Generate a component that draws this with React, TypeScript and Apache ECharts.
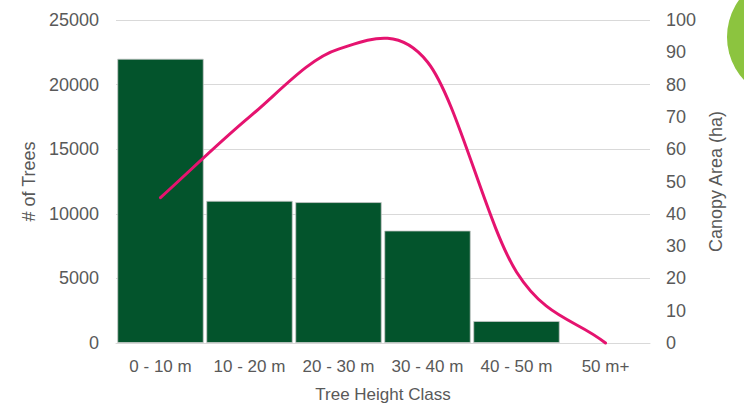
import React, { useEffect, useRef } from "react";
import * as echarts from "echarts";

const categories = ["0 - 10 m", "10 - 20 m", "20 - 30 m", "30 - 40 m", "40 - 50 m", "50 m+"];
const treeCounts = [22000, 11000, 10900, 8700, 1700, 0];
const canopyArea = [45, 70, 91, 87, 22, 0];
const leftTicks = { min: 0, max: 25000, interval: 5000 };
const rightTicks = { min: 0, max: 100, interval: 10 };

const FONT = "'Liberation Sans', Arial, sans-serif";
const TEXT = "#595959";

// Smoothed line (Excel-style cubic Bezier through every point), positioned via api.coord
function renderCanopy(params: any, api: any) {
  const pts = canopyArea.map((v, i) => api.coord([i, v]));
  const n = pts.length;
  const get = (i: number) => {
    if (i < 0) return [2 * pts[0][0] - pts[1][0], 2 * pts[0][1] - pts[1][1]];
    if (i >= n) return [2 * pts[n - 1][0] - pts[n - 2][0], 2 * pts[n - 1][1] - pts[n - 2][1]];
    return pts[i];
  };
  let d = `M${pts[0][0]},${pts[0][1]}`;
  for (let i = 0; i < n - 1; i++) {
    const p0 = get(i - 1), p1 = get(i), p2 = get(i + 1), p3 = get(i + 2);
    const c1x = p1[0] + (p2[0] - p0[0]) / 6;
    const c1y = p1[1] + (p2[1] - p0[1]) / 6;
    const c2x = p2[0] - (p3[0] - p1[0]) / 6;
    const c2y = p2[1] - (p3[1] - p1[1]) / 6;
    d += ` C${c1x},${c1y} ${c2x},${c2y} ${p2[0]},${p2[1]}`;
  }
  return {
    type: "path",
    shape: { pathData: d },
    style: { fill: "none", stroke: "#e5136f", lineWidth: 3, lineCap: "round", lineJoin: "round" },
  };
}

export default function App() {
  const ref = useRef<HTMLDivElement>(null);
  useEffect(() => {
    if (!ref.current) return;
    const chart = echarts.init(ref.current, undefined, { renderer: "svg" });
    chart.setOption({
      animation: false,
      backgroundColor: "#ffffff",
      textStyle: { fontFamily: FONT },
      grid: { left: 116, right: 94, top: 20, bottom: 69 },
      graphic: [
        {
          type: "circle",
          shape: { cx: 790, cy: 37, r: 63 },
          style: { fill: "#8cc43f" },
          z: 10,
        },
      ],
      xAxis: {
        type: "category",
        data: categories,
        boundaryGap: true,
        axisLine: { lineStyle: { color: "#d9d9d9", width: 1 } },
        axisTick: { show: false },
        axisLabel: { color: TEXT, fontSize: 17, margin: 15, fontFamily: FONT, interval: 0 },
        name: "Tree Height Class",
        nameLocation: "middle",
        nameGap: 43,
        nameTextStyle: { color: TEXT, fontSize: 17, fontFamily: FONT },
      },
      yAxis: [
        {
          type: "value",
          ...leftTicks,
          position: "left",
          axisLine: { show: false },
          axisTick: { show: false },
          axisLabel: {
            color: TEXT,
            fontSize: 18,
            margin: 17,
            fontFamily: FONT,
            formatter: (v: number) => String(v),
          },
          splitLine: { lineStyle: { color: "#d9d9d9", width: 1.2 } },
          name: "# of Trees",
          nameLocation: "middle",
          nameRotate: 90,
          nameGap: 74,
          nameTextStyle: { color: TEXT, fontSize: 18, fontFamily: FONT },
        },
        {
          type: "value",
          ...rightTicks,
          position: "right",
          axisLine: { show: false },
          axisTick: { show: false },
          axisLabel: { color: TEXT, fontSize: 18, margin: 16, fontFamily: FONT },
          splitLine: { show: false },
          name: "Canopy Area (ha)",
          nameLocation: "middle",
          nameRotate: 90,
          nameGap: 56,
          nameTextStyle: { color: TEXT, fontSize: 18, fontFamily: FONT },
        },
      ],
      series: [
        {
          type: "bar",
          data: treeCounts.map((v) =>
            v === 0 ? { value: v, itemStyle: { borderWidth: 0 } } : v
          ),
          yAxisIndex: 0,
          barCategoryGap: "3%",
          itemStyle: { color: "#03542c", borderColor: "#c8c8c8", borderWidth: 0.8 },
        },
        {
          type: "custom",
          xAxisIndex: 0,
          yAxisIndex: 1,
          data: [[0, canopyArea[0]]],
          renderItem: renderCanopy,
          clip: false,
          z: 5,
        },
      ],
    });
    return () => chart.dispose();
  }, []);
  return (
    <div
      ref={ref}
      style={{ position: "fixed", left: 0, top: 0, width: 744, height: 412 }}
    />
  );
}
